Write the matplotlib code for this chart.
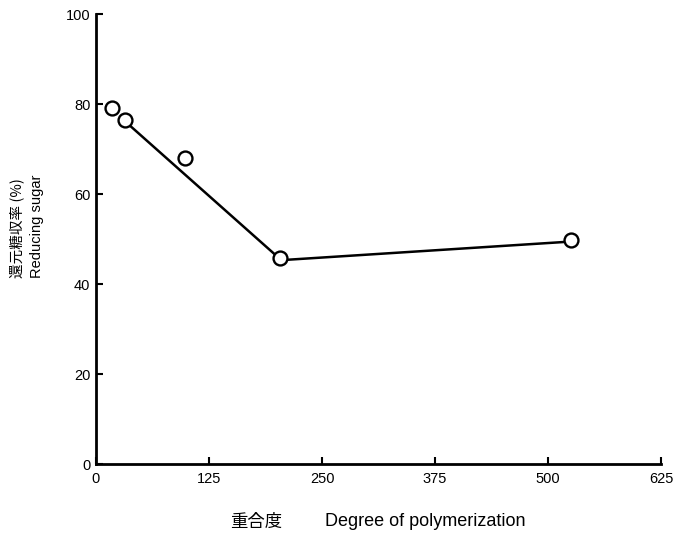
import matplotlib
matplotlib.use("Agg")
import matplotlib.pyplot as plt

# Data
dp_points = [18, 32, 99, 204, 525]
sugar_points = [79.1, 76.4, 68.0, 45.8, 49.8]

line_dp = [33, 205, 523]
line_sugar = [76.0, 45.3, 49.4]

x_ticks = [0, 125, 250, 375, 500, 625]
y_ticks = [0, 20, 40, 60, 80, 100]

plt.rcParams['font.family'] = ['Liberation Sans', 'Noto Sans CJK JP', 'DejaVu Sans']

fig = plt.figure(figsize=(6.79, 5.39), dpi=100)
ax = fig.add_axes([96/679, 1-464/539, (661-96)/679, (464-14)/539])

ax.plot(line_dp, line_sugar, color='black', linewidth=1.8, zorder=2)
ax.plot(dp_points, sugar_points, linestyle='none', marker='o', markersize=10,
        markerfacecolor='white', markeredgecolor='black', markeredgewidth=1.7, zorder=3)

ax.set_xlim(0, 625)
ax.set_ylim(0, 100)
ax.set_xticks(x_ticks)
ax.set_yticks(y_ticks)
ax.tick_params(direction='in', length=5, width=1.5, labelsize=10.5, pad=6)
ax.tick_params(axis='y', pad=4)
for s in ['top', 'right']:
    ax.spines[s].set_visible(False)
for s in ['left', 'bottom']:
    ax.spines[s].set_linewidth(2.0)

fig.text(17/679, 1-228/539, '還元糖収率 (%)', rotation=90, ha='center', va='center',
         fontsize=10.5, family=['Noto Sans CJK JP', 'DejaVu Sans'])
fig.text(37/679, 1-226/539, 'Reducing sugar', rotation=90, ha='center', va='center',
         fontsize=10.5)
fig.text(256/679, 1-522/539, '重合度', ha='center', va='center',
         fontsize=12.5, family=['Noto Sans CJK JP', 'DejaVu Sans'])
fig.text(425/679, 1-522/539, 'Degree of polymerization', ha='center', va='center',
         fontsize=13)

fig.savefig('out.png', dpi=100)
